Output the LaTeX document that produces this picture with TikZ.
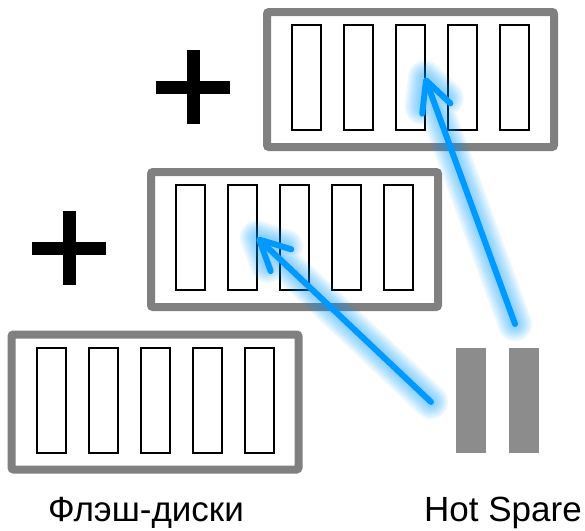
\documentclass[tikz,border=0pt]{standalone}
\usepackage{fontspec}
\setmainfont{Liberation Sans}
\usetikzlibrary{calc,arrows.meta}
\definecolor{boxgray}{RGB}{128,128,128}
\definecolor{sparegray}{RGB}{140,140,140}
\definecolor{arrowblue}{RGB}{0,153,255}

\begin{document}
\begin{tikzpicture}[x=1pt, y=-1pt]
    \tikzstyle{every node}=[inner sep=0pt, outer sep=0pt]
    \tikzstyle{tray}=[draw=boxgray, line width=8pt, rounded corners=2pt, minimum width=287pt, minimum height=135pt]
    \tikzstyle{slot}=[draw=black, line width=2pt, minimum width=29pt, minimum height=105pt]
    \tikzstyle{spare}=[fill=sparegray, minimum width=30pt, minimum height=105pt]
    \tikzstyle{caption}=[font=\fontsize{35}{40}\selectfont, anchor=base]
    \tikzstyle{plus}=[line width=13pt]
    \tikzstyle{move}=[draw=arrowblue, line width=6pt, line cap=round, -{Straight Barb[length=30pt, width=30pt, round]}]
    \tikzstyle{glow}=[draw=arrowblue, line cap=round, line join=round, opacity=0.08]
    \useasboundingbox (0,0) rectangle (585,530);
    % trays with five flash slots each
    \foreach \name/\x/\y in {upper/410.5/79.5, middle/294.5/239.5, lower/155/402} {
        \node [tray] (\name) at (\x,\y) {};
        \foreach \i in {1,...,5}
            \node [slot] (\name\i) at ($(\name)+(-156+52*\i,-2)$) {};
    }
    % plus signs
    \foreach \x/\y in {193/87, 69/248} {
        \draw [plus] (\x-37,\y) -- (\x+37,\y);
        \draw [plus] (\x,\y-37) -- (\x,\y+37);
    }
    % hot spare drives
    \node [spare] (spare1) at (471,400.5) {};
    \node [spare] (spare2) at (524,400.5) {};
    \coordinate (fromA) at ($(spare1.west)+(-25,1.5)$);
    \coordinate (fromB) at ($(spare2.north)+(-9,-24)$);
    % glow behind the arrows
    \foreach \w in {34,30,26,22,18,14,10} {
        \draw [glow, line width=\w pt] (fromA) -- (middle2.east) -- ($(middle2.east)!30pt!26:(fromA)$)
            (middle2.east) -- ($(middle2.east)!30pt!-26:(fromA)$);
        \draw [glow, line width=\w pt] (fromB) -- (upper3.east) -- ($(upper3.east)!30pt!26:(fromB)$)
            (upper3.east) -- ($(upper3.east)!30pt!-26:(fromB)$);
    }
    \draw [move] (fromA) -- (middle2.east);
    \draw [move] (fromB) -- (upper3.east);
    % captions
    \node [caption] (flashlabel) at (146,521) {Флэш-диски};
    \node [caption] (sparelabel) at (503,521) {Hot Spare};
\end{tikzpicture}
\end{document}
